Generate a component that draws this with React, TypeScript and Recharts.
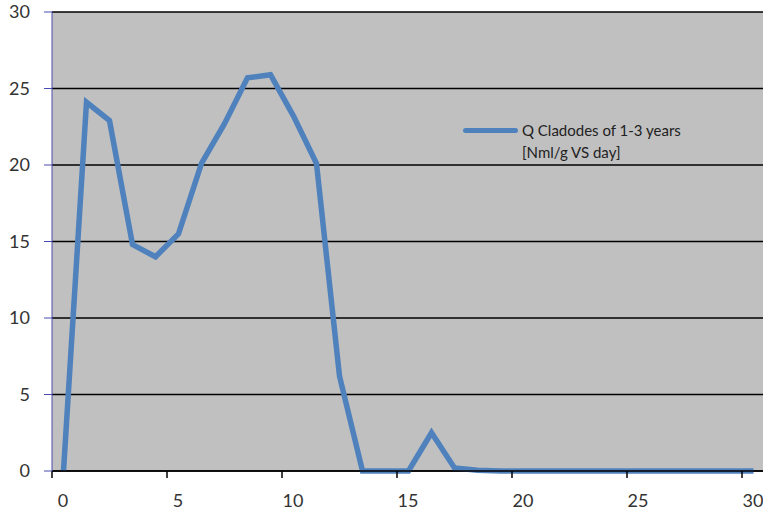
import { CartesianGrid, Line, LineChart, XAxis, YAxis } from "recharts";

// day index -> gas production
const DAYS = Array.from({ length: 31 }, (_, i) => i);
const VALUES = [
  0, 24.1, 22.9, 14.8, 14.0, 15.5, 20.1, 22.7, 25.7, 25.9, 23.2, 20.1, 6.2, 0, 0, 0, 2.5, 0.2, 0.05, 0,
  0, 0, 0, 0, 0, 0, 0, 0, 0, 0, 0,
];
const X_TICKS = [0, 5, 10, 15, 20, 25, 30];
const Y_TICKS = [0, 5, 10, 15, 20, 25, 30];
const SERIES_NAME = "Q Cladodes of 1-3 years";
const SERIES_UNIT = "[Nml/g VS day]";

// categories sit in the middle of each slot, like an Excel category axis
const data = DAYS.map((d, i) => ({ x: d + 0.5, q: VALUES[i] }));

const LINE = "#4F81BD";
const FONT = "Lato, 'Open Sans', sans-serif";

function XTick(props: any) {
  const { x, y, payload } = props;
  return (
    <text x={x + 11} y={y + 27} textAnchor="middle" fontSize={18} fill="#333" fontFamily={FONT}>
      {payload.value}
    </text>
  );
}

export default function App() {
  return (
    <div style={{ position: "absolute", left: 0, top: 0, width: 763, height: 512, overflow: "hidden", background: "#fff" }}>
      <LineChart width={800} height={530} data={data} margin={{ top: 12, right: 35, left: 0, bottom: 18 }}>
        <CartesianGrid vertical={false} fill="#C0C0C0" stroke="#000" strokeWidth={1.5} />
        <XAxis
          type="number"
          dataKey="x"
          domain={[0, 31]}
          ticks={X_TICKS}
          allowDataOverflow
          height={41}
          stroke="#000"
          strokeWidth={1.5}
          tickSize={7}
          tick={<XTick />}
        />
        <YAxis
          domain={[0, 30]}
          ticks={Y_TICKS}
          width={52}
          stroke="#4a4ab0"
          tickSize={8}
          tickMargin={14}
          tick={{ fontSize: 18, fill: "#333", fontFamily: FONT }}
        />
        <Line
          type="linear"
          dataKey="q"
          name={SERIES_NAME}
          stroke={LINE}
          strokeWidth={5.5}
          dot={false}
          isAnimationActive={false}
        />
      </LineChart>
      <div
        style={{
          position: "absolute",
          left: 463,
          top: 119,
          display: "flex",
          alignItems: "flex-start",
          fontFamily: FONT,
          fontSize: 15,
          color: "#222",
        }}
      >
        <div style={{ width: 55, height: 5, background: LINE, borderRadius: 3, marginTop: 9, marginRight: 4 }} />
        <div style={{ lineHeight: "22px" }}>
          <div>{SERIES_NAME}</div>
          <div>{SERIES_UNIT}</div>
        </div>
      </div>
    </div>
  );
}
